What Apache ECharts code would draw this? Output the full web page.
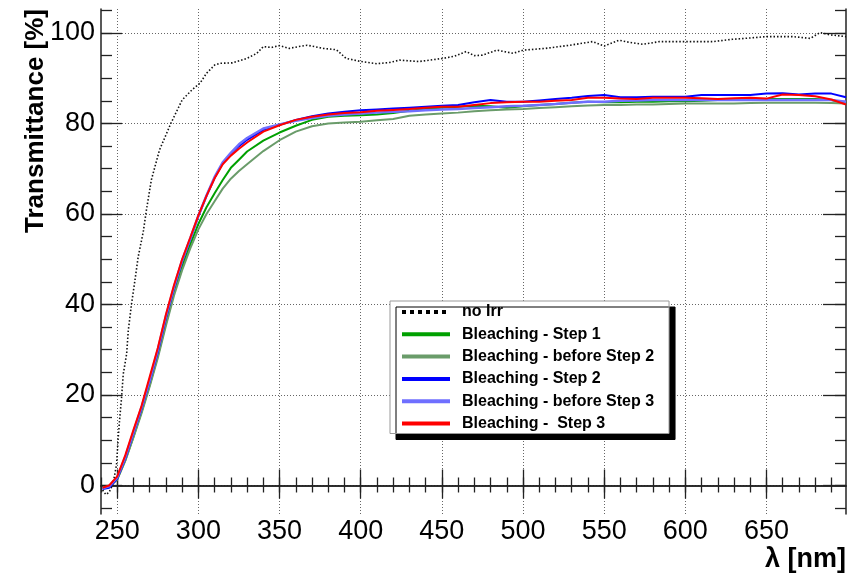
<!DOCTYPE html>
<html><head><meta charset="utf-8">
<script src="https://cdn.jsdelivr.net/npm/echarts@6/dist/echarts.min.js"></script>
<style>html,body{margin:0;padding:0;background:#fff}#c{width:857px;height:574px}</style>
</head><body><div id="c"></div>
<script>
// ---- data ----
const wavelengths = [241,245,250,255,260,265,270,275,280,285,290,295,300,305,310,315,320,325,330,340,350,360,370,380,390,400,410,420,430,440,450,460,470,480,490,500,510,520,530,540,550,560,570,580,590,600,610,620,630,640,650,660,670,680,690,699];
const step1 =       [-0.5,-0.3,1.4,5.6,10.8,16.3,22.2,28.6,35.8,42.6,48.3,53.2,57.8,61.5,64.6,67.5,70.2,72.0,73.8,76.2,78.0,79.5,80.8,81.5,81.7,81.8,82.0,82.3,82.8,83.2,83.5,83.7,83.9,83.8,83.5,83.8,84.1,84.3,84.6,84.8,84.7,84.7,84.8,84.8,84.9,84.9,85.0,85.2,85.2,85.3,85.4,85.4,85.4,85.4,85.2,84.4];
const beforeStep2 = [-0.5,-0.2,1.3,5.5,10.6,16.0,21.9,28.2,35.3,42.0,47.6,52.4,56.6,60.0,62.8,65.6,67.8,69.5,71.0,73.9,76.3,78.2,79.4,80.0,80.2,80.4,80.7,81.0,81.7,82.0,82.2,82.4,82.7,82.9,83.1,83.2,83.4,83.6,83.8,84.0,84.1,84.1,84.2,84.2,84.3,84.4,84.4,84.4,84.4,84.5,84.6,84.6,84.6,84.6,84.5,84.4];
const step2 =       [-0.8,-0.5,1.5,6.0,11.5,17.0,23.0,29.5,37.0,43.6,49.5,54.4,59.5,64.0,68.0,71.2,73.3,75.0,76.4,78.6,79.7,80.8,81.6,82.2,82.6,82.9,83.1,83.3,83.5,83.7,83.9,84.1,84.7,85.2,84.8,84.8,85.1,85.4,85.7,86.1,86.3,85.8,85.8,85.9,85.9,85.9,86.3,86.3,86.3,86.3,86.6,86.7,86.4,86.6,86.6,85.8];
const beforeStep3 = [-0.6,-0.2,1.8,6.3,11.8,17.3,23.3,30.0,37.4,43.9,49.8,54.6,59.6,64.1,68.2,71.4,73.5,75.4,76.8,78.9,79.8,80.6,81.2,81.7,82.0,82.2,82.4,82.6,82.7,82.9,83.1,83.2,83.4,83.6,83.8,83.9,84.1,84.3,84.6,84.8,84.8,85.0,85.1,85.2,85.2,85.2,85.2,85.2,85.2,85.2,85.2,85.2,85.2,85.2,85.2,84.8];
const step3 =       [-0.5,0.0,2.0,6.7,12.3,17.6,24.0,30.4,37.8,44.3,50.0,54.8,59.7,64.0,67.9,71.0,72.9,74.4,75.8,78.2,79.6,80.8,81.5,82.0,82.3,82.5,82.8,83.0,83.2,83.5,83.7,83.7,84.1,84.5,84.7,84.8,84.8,85.0,85.2,85.7,85.7,85.5,85.4,85.7,85.7,85.7,85.6,85.4,85.6,85.7,85.5,86.4,86.3,86.0,85.3,84.2];
const noIrrWavelengths = [241,243,245,247,248,249.6,250.6,251.6,252.7,253.7,255.8,256.8,258.8,260.9,262.9,266,268,271,276,283,290,296,301,305,310,313,321,330,336,340,345,350,356,362,367,377,385,391,400,410,418,424,436,451,458,465,470,475,484,494,500,514,529,543,550,559,566,574,584,597,607,617,629,640,650,666,677,683,689,699];
const noIrr =            [-1.0,-2.0,-1.5,0.0,1.5,4.7,10.6,15.1,19.5,24.6,29.1,34.2,40.1,45.3,50.5,56.0,60.9,67.5,74.1,80.0,85.2,87.4,88.9,91.1,92.9,93.3,93.4,94.4,95.5,97.0,96.8,97.2,96.6,97.0,97.3,96.6,96.3,94.4,93.7,93.2,93.5,94.0,93.7,94.4,94.9,95.9,95.0,95.1,96.2,95.5,96.2,96.6,97.3,98.1,97.1,98.4,97.9,97.5,98.1,98.1,98.1,98.1,98.6,98.9,99.2,99.2,98.8,100.1,99.6,99.2];
const seriesNames = ['no Irr','Bleaching - Step 1','Bleaching - before Step 2','Bleaching - Step 2','Bleaching - before Step 3','Bleaching -  Step 3'];
const xTickLabels = [250,300,350,400,450,500,550,600,650];
const xMinorTicks = [240,250,260,270,280,290,300,310,320,330,340,350,360,370,380,390,400,410,420,430,440,450,460,470,480,490,500,510,520,530,540,550,560,570,580,590,600,610,620,630,640,650,660,670,680,690];
const yTickLabels = [0,20,40,60,80,100];
const yMinorTicks = [-5,0,5,10,15,20,25,30,35,40,45,50,55,60,65,70,75,80,85,90,95,100,105];

const FONT = '"Liberation Sans", Arial, Helvetica, sans-serif';
const X_MIN = 240, X_MAX = 699, Y_MIN = -6.3, Y_MAX = 105.3;
const frame = {show:true, lineStyle:{color:'#222', width:1.5}};
const grid = {show:true, lineStyle:{color:'#666', width:1, type:[1,2]}};
function xAx(pos, ticks, len, opts){
  return Object.assign({type:'value', position:pos, min:X_MIN, max:X_MAX, gridIndex:0,
    axisLine:{show:false}, splitLine:{show:false}, axisLabel:{show:false},
    axisTick:{show:true, inside:true, length:len, customValues:ticks, lineStyle:{color:'#222', width:1.3}}}, opts||{});
}
function yAx(pos, ticks, len, opts){
  return Object.assign({type:'value', position:pos, min:Y_MIN, max:Y_MAX, gridIndex:0,
    axisLine:{show:false}, splitLine:{show:false}, axisLabel:{show:false},
    axisTick:{show:true, inside:true, length:len, customValues:ticks, lineStyle:{color:'#222', width:1.3}}}, opts||{});
}
function pairs(xs, ys){ return xs.map((x,i)=>[x, ys[i]]); }
function line(name, xs, ys, color, width, extra){
  return Object.assign({type:'line', name:name, data:pairs(xs, ys), xAxisIndex:0, yAxisIndex:0,
    symbol:'none', showSymbol:false, animation:false, clip:true,
    lineStyle:{color:color, width:width}, itemStyle:{color:color}}, extra||{});
}
const colors = ['#111','#00a000','#6a9c6a','#0000ff','#6f6fff','#ff0000'];

const option = {
  backgroundColor:'#fff',
  animation:false,
  grid:{left:101, right:11, top:9, bottom:60, containLabel:false},
  xAxis:[
    xAx('bottom', xTickLabels, 16, {
      axisLine:frame, splitLine:grid,
      axisLabel:{show:true, customValues:xTickLabels, margin:4, fontSize:27, fontFamily:FONT, color:'#000'}}),
    xAx('bottom', xMinorTicks, 8),
    xAx('top', xTickLabels, 13, {axisLine:frame}),
    xAx('top', xMinorTicks, 7)
  ],
  yAxis:[
    yAx('left', yTickLabels, 21, {
      axisLine:frame, splitLine:grid,
      axisLabel:{show:true, customValues:yTickLabels, margin:6, fontSize:27, fontFamily:FONT, color:'#000'}}),
    yAx('left', yMinorTicks, 11),
    yAx('right', yTickLabels, 23, {axisLine:frame}),
    yAx('right', yMinorTicks, 11)
  ],
  legend:{
    orient:'vertical', left:390, top:301, padding:[3,15,2,10],
    itemWidth:48, itemHeight:16, itemGap:6.3,
    backgroundColor:'#fff', borderColor:'#999', borderWidth:1, borderRadius:0,
    shadowColor:'#000', shadowBlur:0.01, shadowOffsetX:6, shadowOffsetY:6,
    itemStyle:{color:'rgba(0,0,0,0)', borderWidth:0, opacity:0},
    textStyle:{fontFamily:FONT, fontWeight:'bold', fontSize:16, color:'#000', padding:[0,0,0,7]},
    data:[
      {name:seriesNames[0], lineStyle:{width:4, type:[4,4], color:'#000'}},
      {name:seriesNames[1], lineStyle:{width:4}},
      {name:seriesNames[2], lineStyle:{width:4}},
      {name:seriesNames[3], lineStyle:{width:4}},
      {name:seriesNames[4], lineStyle:{width:4}},
      {name:seriesNames[5], lineStyle:{width:4}}
    ]
  },
  graphic:[
    {type:'text', x:36, y:9, rotation:Math.PI/2,
     style:{text:'Transmittance [%]', font:'bold 26px ' + FONT, fill:'#000', textAlign:'right', textVerticalAlign:'middle'}},
    {type:'text', x:846, y:560,
     style:{text:'λ [nm]', font:'bold 27px ' + FONT, fill:'#000', textAlign:'right', textVerticalAlign:'middle'}}
  ],
  series:[
    line(seriesNames[0], noIrrWavelengths, noIrr, colors[0], 1.6, {lineStyle:{color:colors[0], width:1.6, type:[1.5,2]}}),
    line(seriesNames[1], wavelengths, step1, colors[1], 2),
    line(seriesNames[2], wavelengths, beforeStep2, colors[2], 2),
    line(seriesNames[3], wavelengths, step2, colors[3], 2),
    line(seriesNames[4], wavelengths, beforeStep3, colors[4], 2.5),
    line(seriesNames[5], wavelengths, step3, colors[5], 2)
  ]
};
const chart = echarts.init(document.getElementById('c'), null, {renderer:'canvas'});
chart.setOption(option);
</script></body></html>
